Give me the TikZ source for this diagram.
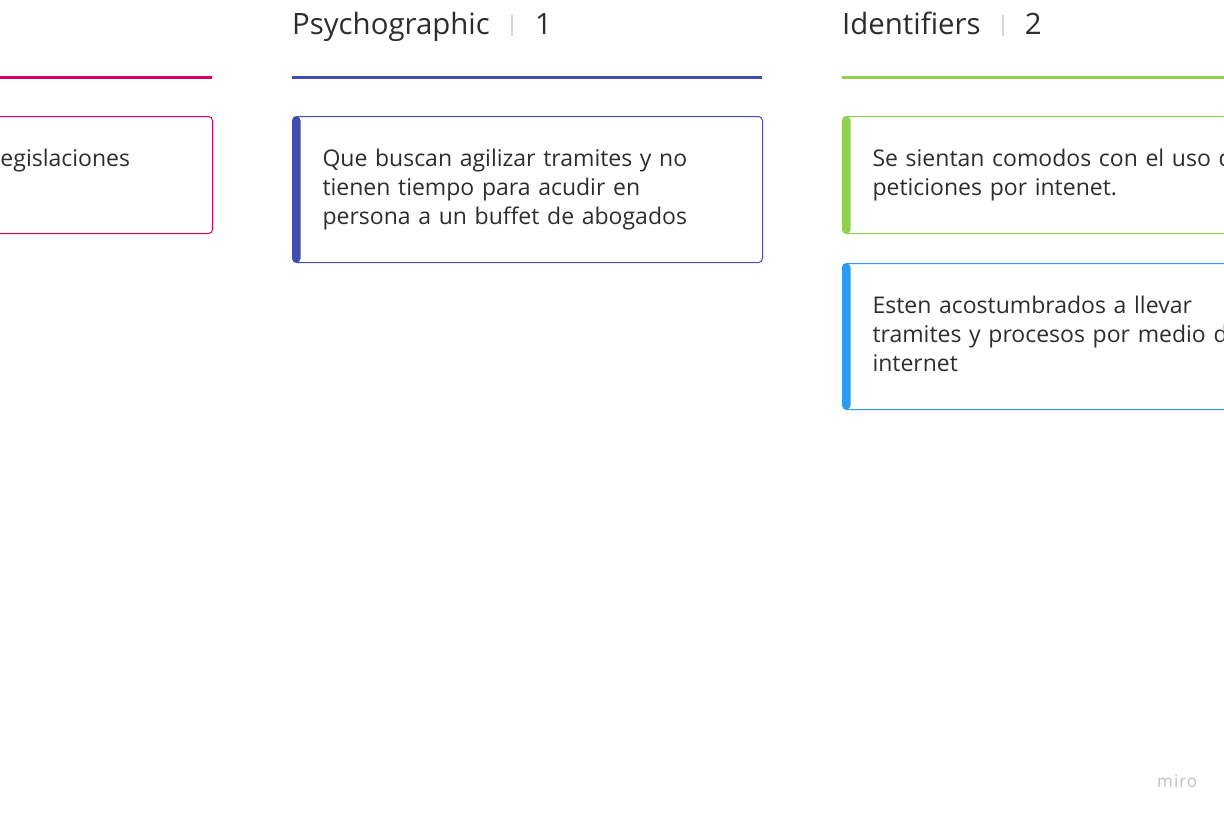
\documentclass[tikz,border=0pt]{standalone}
\usepackage{fontspec}
\setmainfont{Open Sans}
\usetikzlibrary{positioning}
\definecolor{pinkcolor}{RGB}{214,0,98}
\definecolor{indigocolor}{RGB}{67,78,176}
\definecolor{greencolor}{RGB}{143,209,79}
\definecolor{bluecolor}{RGB}{45,155,240}
\definecolor{textcolor}{RGB}{45,45,45}
\definecolor{sepcolor}{RGB}{214,214,214}
\definecolor{logocolor}{RGB}{190,190,200}

\begin{document}
\begin{tikzpicture}[
    x=1pt, y=-1pt,
    header/.style={inner sep=0pt, anchor=base west, text=textcolor, font=\fontsize{29.4}{35}\selectfont},
    colline/.style={line width=3pt},
    card/.style={draw=#1, line width=1pt, rounded corners=4pt, anchor=north west, inner xsep=30pt, inner ysep=0pt, text width=410pt, align=left, text=textcolor, font=\fontsize{23}{29}\selectfont,
        path picture={\fill[#1] (path picture bounding box.north west) rectangle ([xshift=8pt]path picture bounding box.south west);}}
]
    \useasboundingbox (0,0) rectangle (1224,816);
    \clip (0,0) rectangle (1224,816);

    % Column headers
    \node[header] (psyhead) at (292,35) {Psychographic};
    \node[header, base right=21pt of psyhead] (psydiv) {\textcolor{sepcolor}{\rule[-1pt]{1.5pt}{21pt}}};
    \node[header, base right=22pt of psydiv] (psynum) {1};

    \node[header] (idhead) at (842,35) {Identifiers};
    \node[header, base right=21pt of idhead] (iddiv) {\textcolor{sepcolor}{\rule[-1pt]{1.5pt}{21pt}}};
    \node[header, base right=21pt of iddiv] (idnum) {2};

    % Column lines
    \draw[colline, pinkcolor] (-30,78) -- (212,78);
    \draw[colline, indigocolor] (292,78) -- (762,78);
    \draw[colline, greencolor] (842,78) -- (1312,78);

    % Cards
    \node[card=pinkcolor, text width=182pt, minimum height=117pt] (legcard) at (-30,116) {egislaciones\\\vphantom{p}};
    \node[card=indigocolor, minimum height=146pt] (psycard) at (292,116) {Que buscan agilizar tramites y no\\tienen tiempo para acudir en\\persona a un buffet de abogados};
    \node[card=greencolor, minimum height=117pt] (idcard) at (842,116) {Se sientan comodos con el uso d\\peticiones por intenet.};
    \node[card=bluecolor, minimum height=146pt, below=29pt of idcard] (webcard) {Esten acostumbrados a llevar\\tramites y procesos por medio d\\internet\vphantom{p}};

    % Watermark
    \node[anchor=base west, inner sep=0pt, text=logocolor, font=\fontsize{17}{20}\selectfont\addfontfeature{LetterSpace=6}] (logo) at (1157,787) {miro};
\end{tikzpicture}
\end{document}
